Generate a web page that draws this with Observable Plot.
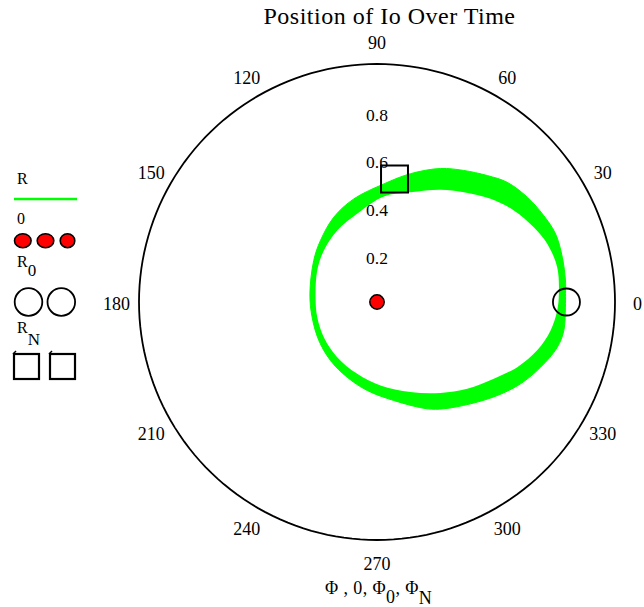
<!DOCTYPE html>
<html>
<head>
<meta charset="utf-8">
<script src="https://cdn.jsdelivr.net/npm/d3@7"></script>
<script src="https://cdn.jsdelivr.net/npm/@observablehq/plot@0.6"></script>
<style>
  body { margin: 0; background: #fff; font-family: "Liberation Serif", "Times New Roman", serif; }
  #wrap { position: relative; width: 644px; height: 607px; overflow: hidden; background: #fff; }
  #title { position: absolute; top: 4px; left: 389.5px; transform: translateX(-50%); font-size: 24px; letter-spacing: 0.5px; line-height: 24px; white-space: nowrap; color: #000; }
  #chart { position: absolute; left: 0; top: 0; }
  #overlay { position: absolute; left: 0; top: 0; pointer-events: none; }
</style>
</head>
<body>
<div id="wrap">
  <div id="chart"></div>
  <div id="title">Position of Io Over Time</div>
  <svg id="overlay" width="644" height="607" font-family="Liberation Serif, Times New Roman, serif" fill="#000">
    <!-- legend -->
    <text x="17" y="184" font-size="16">R</text>
    <line x1="14" y1="199" x2="77" y2="199" stroke="#00ff00" stroke-width="2.5"/>
    <text x="17" y="224" font-size="16">0</text>
    <ellipse cx="22.8" cy="240.7" rx="8.3" ry="7" fill="#ff0000" stroke="#000" stroke-width="1.6"/>
    <ellipse cx="45.5" cy="240.7" rx="8.3" ry="7" fill="#ff0000" stroke="#000" stroke-width="1.6"/>
    <ellipse cx="67.5" cy="240.7" rx="7.3" ry="7" fill="#ff0000" stroke="#000" stroke-width="1.6"/>
    <text x="17" y="267" font-size="16">R<tspan dy="9" font-size="17">0</tspan></text>
    <circle cx="28.5" cy="302" r="13.8" fill="none" stroke="#000" stroke-width="1.8"/>
    <circle cx="61.3" cy="302" r="13.8" fill="none" stroke="#000" stroke-width="1.8"/>
    <text x="17" y="333" font-size="16">R<tspan dy="12" font-size="17">N</tspan></text>
    <rect x="14" y="354" width="25" height="25" fill="none" stroke="#000" stroke-width="2.2"/>
    <rect x="50" y="354" width="25" height="25" fill="none" stroke="#000" stroke-width="2.2"/>
    <line x1="13" y1="354" x2="16" y2="351" stroke="#000" stroke-width="1.5"/>
    <line x1="49" y1="354" x2="52" y2="351" stroke="#000" stroke-width="1.5"/>
    <!-- angular axis label -->
    <text x="325" y="594" font-size="18" letter-spacing="0.4">Φ , 0, Φ<tspan dy="9">0</tspan><tspan dy="-9">, Φ</tspan><tspan dy="10">N</tspan></text>
  </svg>
</div>
<script>
// ---- data ----
const angleTicks = [0, 30, 60, 90, 120, 150, 180, 210, 240, 270, 300, 330];
const radialTicks = [0.2, 0.4, 0.6, 0.8];

// R(Φ) band: outer edge of the traced orbits
const phiOuter = [2.6, 6.5, 13.6, 20.9, 27.4, 34.9, 42.6, 48.9, 56.6, 64.6, 75.4, 86.7, 102.7, 117.0, 132.6, 146.7, 173.0, 193.2, 213.5, 231.5, 248.4, 263.7, 279.7, 295.2, 302.0, 312.6, 322.1, 330.3, 338.3, 345.9, 351.3, 358.4];
const rOuter   = [0.793, 0.797, 0.801, 0.803, 0.789, 0.770, 0.743, 0.705, 0.662, 0.621, 0.557, 0.497, 0.444, 0.400, 0.351, 0.318, 0.284, 0.280, 0.293, 0.314, 0.340, 0.374, 0.420, 0.496, 0.529, 0.581, 0.640, 0.694, 0.740, 0.781, 0.794, 0.792];
// inner edge of the traced orbits
const phiInner = [2.7, 10.9, 18.9, 25.5, 33.8, 42.3, 51.7, 60.5, 73.0, 86.3, 102.7, 119.1, 135.9, 152.2, 175.5, 194.3, 213.5, 234.2, 254.6, 272.4, 290.4, 304.9, 316.1, 326.7, 335.1, 343.2, 350.7, 357.3];
const rInner   = [0.765, 0.771, 0.756, 0.730, 0.692, 0.645, 0.588, 0.542, 0.482, 0.444, 0.380, 0.344, 0.311, 0.284, 0.259, 0.259, 0.268, 0.286, 0.313, 0.351, 0.404, 0.466, 0.526, 0.587, 0.650, 0.703, 0.739, 0.758];

// origin series "0"
const originPhi = [0];
const originR = [0];
// R0 at Φ0
const phi0 = [0];
const r0 = [0.796];
// RN at ΦN
const phiN = [81.9];
const rN = [0.522];

const rMax = 1;
const labelR = 1.095;

// ---- build tables (polar -> cartesian) ----
const rad = d => d * Math.PI / 180;
const toXY = (rs, phis) => rs.map((r, i) => ({x: r * Math.cos(rad(phis[i])), y: r * Math.sin(rad(phis[i])), r, phi: phis[i]}));

const frame = d3.range(0, 361, 2).map(a => ({x: rMax * Math.cos(rad(a)), y: rMax * Math.sin(rad(a))}));
const outer = toXY(rOuter, phiOuter);
const inner = toXY(rInner, phiInner);
const angLabels = angleTicks.map(a => ({x: labelR * Math.cos(rad(a)), y: labelR * Math.sin(rad(a)), label: String(a)}));
const radLabels = radialTicks.map(v => ({x: 0, y: v, label: String(v)}));

const chart = Plot.plot({
  width: 644,
  height: 607,
  marginLeft: 138.5,
  marginRight: 29.5,
  marginTop: 63.5,
  marginBottom: 67.5,
  style: {fontFamily: "Liberation Serif, Times New Roman, serif", fontSize: "18px", background: "transparent", overflow: "visible", color: "#000"},
  x: {domain: [-rMax, rMax], axis: null},
  y: {domain: [-rMax, rMax], axis: null},
  marks: [
    Plot.line(frame, {x: "x", y: "y", stroke: "#000", strokeWidth: 1.8}),
    Plot.line(outer, {x: "x", y: "y", curve: "catmull-rom-closed", fill: "#00ff00", stroke: "#00ff00", strokeWidth: 1}),
    Plot.line(inner, {x: "x", y: "y", curve: "catmull-rom-closed", fill: "#ffffff", stroke: "none"}),
    Plot.text(angLabels, {x: "x", y: "y", text: "label", dy: 2, fill: "#000", fontSize: 18, letterSpacing: "1.2px"}),
    Plot.text(radLabels, {x: "x", y: "y", text: "label", dy: 3.5, fill: "#000", fontSize: 17.5}),
    Plot.dot(toXY(originR, originPhi), {x: "x", y: "y", r: 7.2, fill: "#ff0000", stroke: "#000", strokeWidth: 1.5}),
    Plot.dot(toXY(r0, phi0), {x: "x", y: "y", r: 13.5, fill: "none", stroke: "#000", strokeWidth: 1.8}),
    Plot.dot(toXY(rN, phiN), {x: "x", y: "y", r: 15.2, symbol: "square", fill: "none", stroke: "#000", strokeWidth: 2})
  ]
});
document.getElementById("chart").appendChild(chart);
</script>
</body>
</html>
